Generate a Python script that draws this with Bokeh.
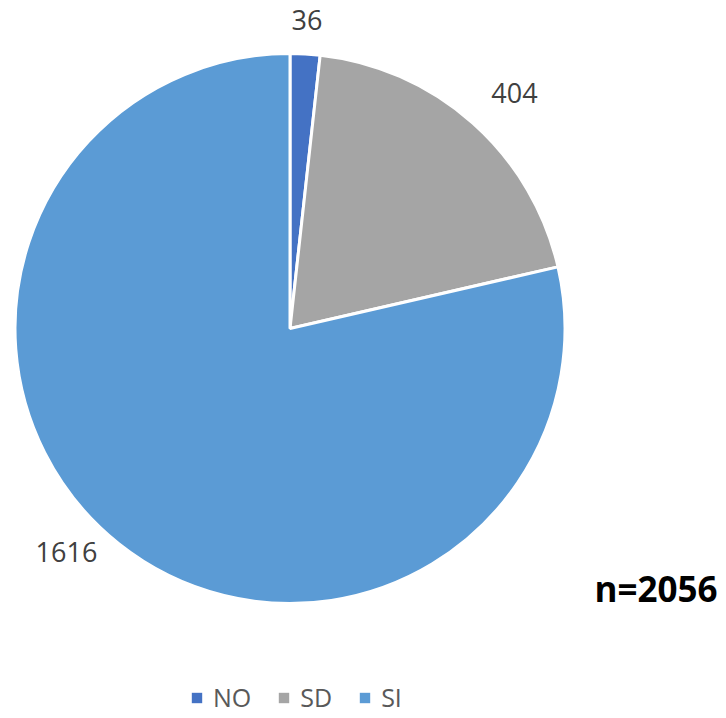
import math
from bokeh.plotting import figure
from bokeh.models import Range1d, ColumnDataSource, Legend, LegendItem, Label
from bokeh.core.properties import value
from bokeh.embed import file_html
from bokeh.resources import INLINE

categories = ["NO", "SD", "SI"]
counts = [36, 404, 1616]
colors = ["#4472C4", "#A5A5A5", "#5B9BD5"]
total_label = "n=2056"

W, H = 726, 718
p = figure(width=W, height=H, output_backend="svg", toolbar_location=None,
           x_range=Range1d(0, W), y_range=Range1d(0, H), min_border=0,
           outline_line_color=None)
p.axis.visible = False
p.grid.visible = False
p.background_fill_color = "white"
p.border_fill_color = "white"

cx, cy, R = 289.5, H - 328.0, 275.0
total = sum(counts)
cum = [0]
for c in counts:
    cum.append(cum[-1] + c)
start = [math.pi / 2 - 2 * math.pi * cum[i] / total for i in range(len(counts))]
end = [math.pi / 2 - 2 * math.pi * cum[i + 1] / total for i in range(len(counts))]

src = ColumnDataSource(dict(cat=categories, val=counts, color=colors, start=start, end=end))
p.wedge(x=cx, y=cy, radius=R, start_angle="start", end_angle="end", direction="clock",
        fill_color="color", line_color="white", line_width=3, source=src)

# data labels
nudge_deg = [0.0, 2.0, 6.5]
label_r = [309, 325, 316]
lx, ly = [], []
for i in range(len(counts)):
    mid = 2 * math.pi * (cum[i] + counts[i] / 2) / total + math.radians(nudge_deg[i])
    lx.append(cx + label_r[i] * math.sin(mid))
    ly.append(cy + label_r[i] * math.cos(mid))
lsrc = ColumnDataSource(dict(x=lx, y=ly, t=[str(c) for c in counts]))
p.text(x="x", y="y", text="t", source=lsrc, text_align="center", text_baseline="middle",
       text_font=value("Open Sans"), text_font_size="27px", text_color="#404040")

p.add_layout(Label(x=717, y=H - 588, text=total_label, text_align="right", text_baseline="middle",
                   text_font="Open Sans", text_font_style="bold", text_font_size="35px",
                   text_color="#000000"))

# legend with rectangular swatches (dummy quads outside the visible range)
items = []
for i in range(3):
    q = p.quad(left=[-40], right=[-30], top=[-30], bottom=[-40], fill_color=colors[i], line_color=None)
    items.append(LegendItem(label=categories[i], renderers=[q]))
legend = Legend(items=items, orientation="horizontal", location=(190, 4), border_line_color=None,
                background_fill_alpha=0, label_text_font="Open Sans", label_text_font_size="25px",
                label_text_color="#595959", glyph_width=13, glyph_height=13, spacing=26,
                label_standoff=10, padding=0, margin=0, label_height=20)
p.add_layout(legend, "center")

open("out.html", "w").write(file_html(p, INLINE))
